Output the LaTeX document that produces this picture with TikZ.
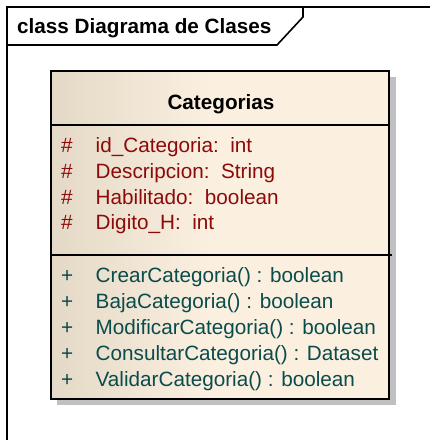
\documentclass[tikz,border=0pt]{standalone}
\usepackage{fontspec}
\setmainfont{Liberation Sans}
\begin{document}
\begin{tikzpicture}[x=1pt,y=-1pt,
  attr/.style={anchor=base west,inner sep=0pt,text=attrcol,font=\fontsize{20.7}{24}\selectfont},
  oper/.style={anchor=base west,inner sep=0pt,text=opcol,font=\fontsize{20.7}{24}\selectfont},
  title/.style={anchor=base west,inner sep=0pt,font=\fontsize{20.7}{24}\selectfont\bfseries}]
\definecolor{attrcol}{RGB}{140,10,10}
\definecolor{opcol}{RGB}{10,75,75}
\definecolor{fillL}{RGB}{228,216,198}
\definecolor{fillR}{RGB}{251,240,224}
\definecolor{shadowcol}{RGB}{192,192,192}
\useasboundingbox (0,0) rectangle (430,440);
\fill[white] (0,0) rectangle (430,440);
% frame
\draw[line width=1.6pt] (7,445) -- (7,7) -- (435,7);
\draw[line width=1.6pt] (7,45) -- (277,45) -- (303,17) -- (303,7);
\node[title] (frametitle) at (17,33) {class Diagrama de Clases};
% class shadow
\fill[shadowcol] (57,77) rectangle (396,405);
% class fill
\fill[fillR] (51,71) rectangle (389,399);
\shade[left color=fillL,right color=fillR] (51,71) rectangle (210,399);
\draw[line width=1.8pt] (51,71) rectangle (389,399);
\coordinate (sepA) at (51,125);
\coordinate (sepB) at (389,125);
\coordinate (sepC) at (51,255);
\coordinate (sepD) at (392,255);
\draw[line width=1.8pt] (sepA) -- (sepB);
\draw[line width=1.8pt] (sepC) -- (sepD);
\node[title,anchor=base] (cname) at (221,109) {Categorias};
% attributes
\node[attr] (a1v) at (61,152.5) {\#};
\node[attr] (a1) at (95.5,152.5) {id\_Categoria:\ \ int};
\node[attr] (a2v) at (61,178.3) {\#};
\node[attr] (a2) at (95.5,178.3) {Descripcion:\ \ String};
\node[attr] (a3v) at (61,204) {\#};
\node[attr] (a3) at (95.5,204) {Habilitado:\ \ boolean};
\node[attr] (a4v) at (61,229.8) {\#};
\node[attr] (a4) at (95.5,229.8) {Digito\_H:\ \ int};
% operations
\node[oper] (o1v) at (61,282) {+};
\node[oper] (o1) at (95.5,282) {CrearCategoria() : boolean};
\node[oper] (o2v) at (61,308) {+};
\node[oper] (o2) at (95.5,308) {BajaCategoria() : boolean};
\node[oper] (o3v) at (61,334) {+};
\node[oper] (o3) at (95.5,334) {ModificarCategoria() : boolean};
\node[oper] (o4v) at (61,360) {+};
\node[oper] (o4) at (95.5,360) {ConsultarCategoria() : Dataset};
\node[oper] (o5v) at (61,386) {+};
\node[oper] (o5) at (95.5,386) {ValidarCategoria() : boolean};
\end{tikzpicture}
\end{document}
